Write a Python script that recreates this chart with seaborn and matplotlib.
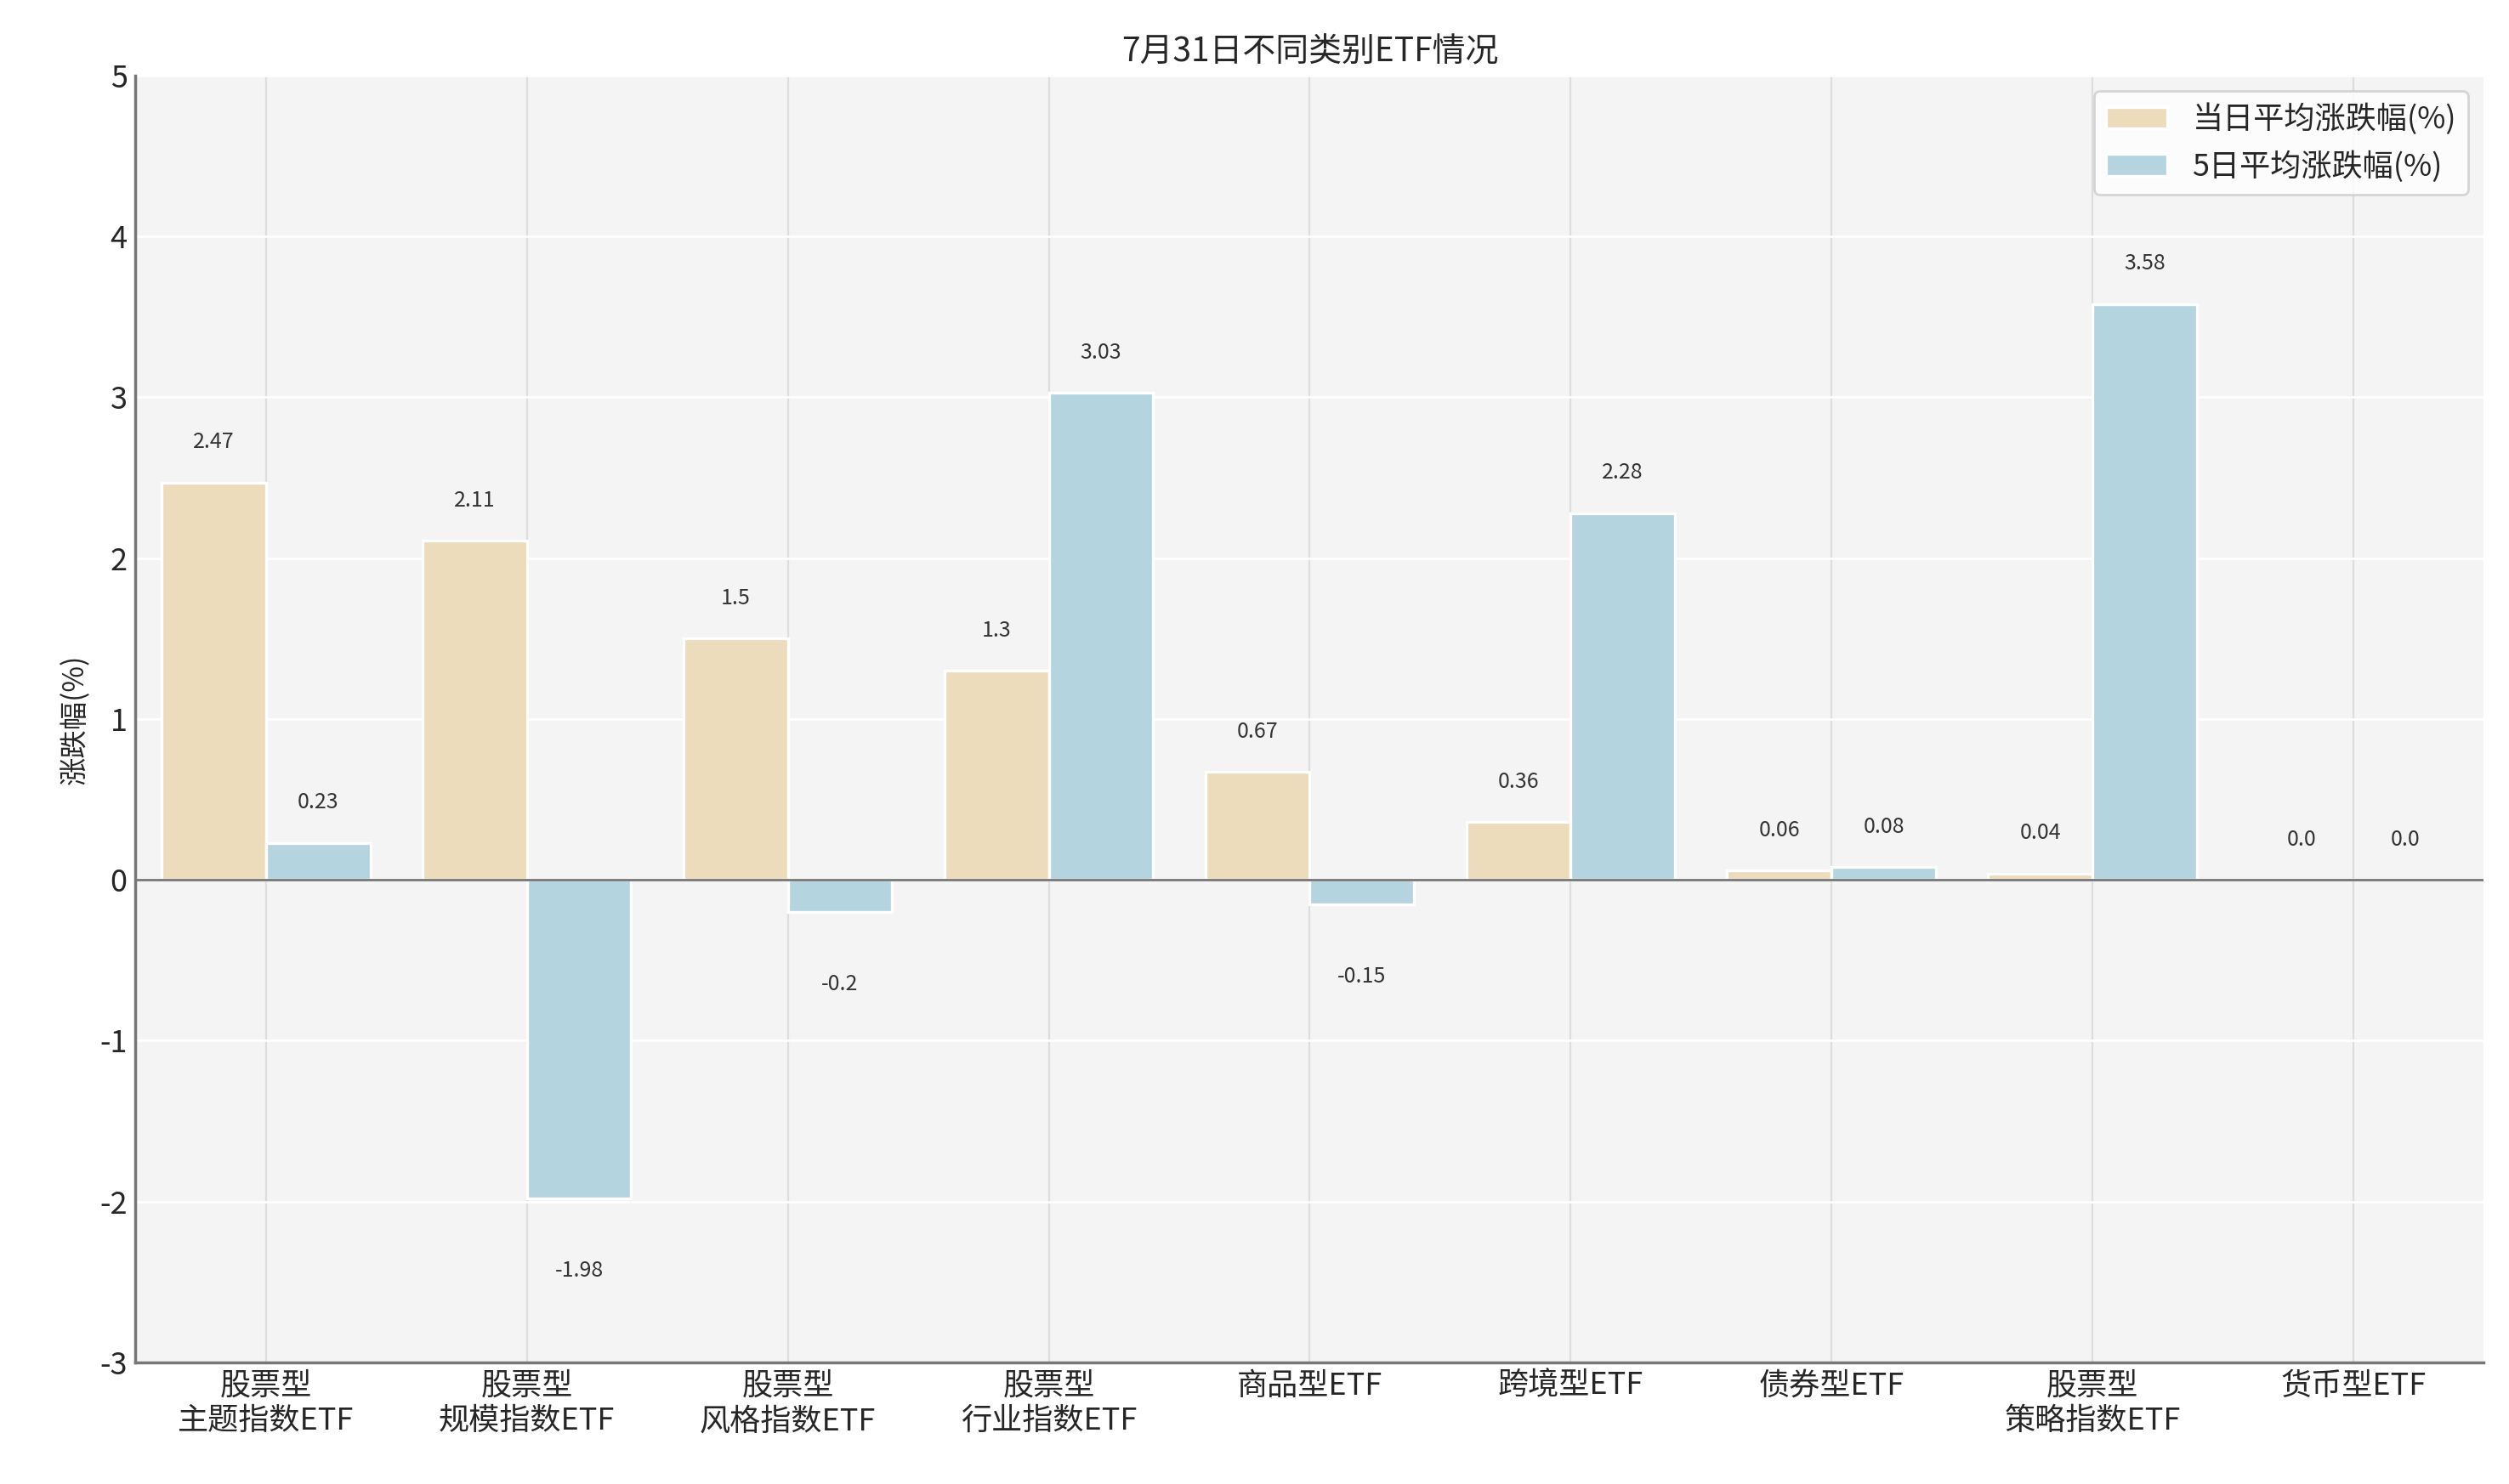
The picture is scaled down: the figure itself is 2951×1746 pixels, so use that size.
import matplotlib
matplotlib.use("Agg")
import matplotlib.pyplot as plt
import seaborn as sns
import pandas as pd

categories = ["股票型\n主题指数ETF", "股票型\n规模指数ETF", "股票型\n风格指数ETF", "股票型\n行业指数ETF",
              "商品型ETF", "跨境型ETF", "债券型ETF", "股票型\n策略指数ETF", "货币型ETF"]
daily = [2.47, 2.11, 1.5, 1.3, 0.67, 0.36, 0.06, 0.04, 0.0]
five_day = [0.23, -1.98, -0.2, 3.03, -0.15, 2.28, 0.08, 3.58, 0.0]
series_names = ["当日平均涨跌幅(%)", "5日平均涨跌幅(%)"]

df = pd.DataFrame({
    "cat": categories * 2,
    "val": daily + five_day,
    "series": [series_names[0]] * len(categories) + [series_names[1]] * len(categories),
})

sns.set_theme(style="white")
plt.rcParams['font.family'] = ['Noto Sans CJK SC', 'DejaVu Sans']
plt.rcParams['axes.unicode_minus'] = False

fig = plt.figure(figsize=(14.755, 8.73), dpi=200)
ax = fig.add_axes([0.054, 0.082, 0.936, 0.867])
ax.set_facecolor("#f4f4f4")

sns.barplot(data=df, x="cat", y="val", hue="series", palette=["#F5DEB3", "#ADD8E6"],
            edgecolor="white", linewidth=1.2, ax=ax, width=0.8)

for cont in ax.containers:
    for bar in cont:
        v = bar.get_height()
        x = bar.get_x() + bar.get_width() / 2
        y = v + 0.25 if v >= 0 else v - 0.45
        ax.text(x, y, f"{v}", ha="center", va="center", fontsize=9, color="#333333")

ax.set_ylim(-3, 5)
ax.set_yticks(range(-3, 6))
ax.set_yticklabels([str(i) for i in range(-3, 6)], fontsize=13)
ax.tick_params(axis="x", labelsize=13, length=0)
ax.tick_params(axis="y", length=0)
ax.grid(axis="y", color="white", linewidth=1)
ax.grid(axis="x", color="#dddddd", linewidth=0.8)
ax.set_axisbelow(True)
ax.axhline(0, color="#777777", linewidth=1)
ax.set_xlabel("")
ax.set_ylabel("涨跌幅(%)", fontsize=12)
ax.set_title("7月31日不同类别ETF情况", fontsize=14)
for s in ["top", "right"]:
    ax.spines[s].set_visible(False)
for s in ["left", "bottom"]:
    ax.spines[s].set_color("#777777")
leg = ax.legend(loc="upper right", fontsize=13, frameon=True, title=None)
leg.get_frame().set_edgecolor("#cccccc")
fig.savefig("out.png", dpi=200)
